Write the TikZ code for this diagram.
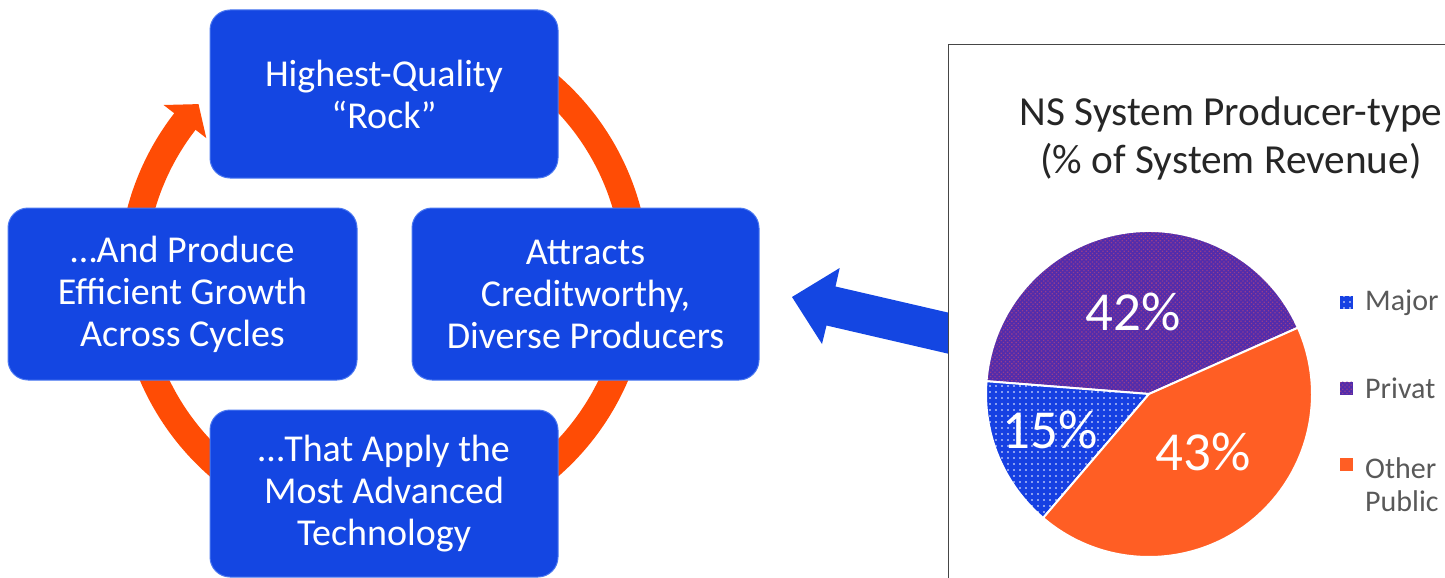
\documentclass[tikz,border=0pt]{standalone}
\usepackage{fontspec}
\setmainfont{Carlito}
\usetikzlibrary{patterns.meta}
\definecolor{boxblue}{RGB}{20,70,226}
\definecolor{boxedge}{RGB}{75,120,240}
\definecolor{ringorange}{RGB}{255,76,5}
\definecolor{pieorange}{RGB}{255,94,36}
\definecolor{pieblue}{RGB}{22,64,226}
\definecolor{piepurple}{RGB}{82,44,172}
\definecolor{purpledot}{RGB}{150,62,140}
\definecolor{titlegray}{RGB}{38,38,38}
\definecolor{leggray}{RGB}{89,89,89}
\definecolor{framegray}{RGB}{70,70,70}
\begin{document}
\begin{tikzpicture}[x=1pt,y=-1pt,
  box/.style={draw=boxedge, line width=1pt, fill=boxblue, rounded corners=20pt,
    text=white, align=center, font=\fontsize{38}{42}\selectfont, inner sep=0pt},
  ring/.style={draw=ringorange, line width=27pt},
  bluedots/.style={postaction={pattern={Dots[radius=0.9pt,distance=6pt]}, pattern color=white}},
  purpledots/.style={postaction={pattern={Dots[radius=0.9pt,distance=3pt,angle=45]}, pattern color=purpledot}},
  sep/.style={postaction={draw=white, line width=2pt, line join=round}},
  pct/.style={text=white, font=\fontsize{55}{60}\selectfont, inner sep=0pt},
  ttl/.style={text=titlegray, font=\fontsize{41.3}{48}\selectfont, inner sep=0pt, anchor=base},
  leg/.style={text=leggray, font=\fontsize{30}{34}\selectfont, inner sep=0pt, anchor=base west},
  mk/.style={minimum size=13pt, inner sep=0pt, draw=none},
  chartbox/.style={draw=framegray, line width=1.3pt, fill=white, inner sep=0pt}
]
\useasboundingbox (0,0) rectangle (1445,578);
\clip (0,0) rectangle (1445,578);

% cycle ring
\coordinate (rc) at (384,276);
\draw[ring] (rc) ++(-60:252) arc[start angle=-60, end angle=218, radius=252];
\fill[ringorange] (163.6,105) -- (198.5,104.1) -- (206.3,138.1) -- cycle;

% boxes
\node[box, minimum width=348pt, minimum height=168pt] (top) at (384,94) {Highest-Quality\\``Rock''};
\node[box, minimum width=349pt, minimum height=172pt] (left) at (182.5,294) {\ldots And Produce\\Efficient Growth\\Across Cycles};
\node[box, minimum width=347pt, minimum height=172pt] (right) at (585.5,294) {Attracts\\Creditworthy,\\Diverse Producers};
\node[box, minimum width=348pt, minimum height=167pt] (bottom) at (384,493.5) {\ldots That Apply the\\Most Advanced\\Technology};

% big blue arrow from chart to cycle
\coordinate (tip) at (792,297);
\fill[boxblue] (tip) -- (839.7,268) -- (835.5,286.5) -- (962,315.8) -- (953,354.8) -- (826.5,325.5) -- (822,344) -- cycle;

% chart frame
\node[chartbox, anchor=north west, minimum width=540pt, minimum height=560pt] (chart) at (948,44) {};

\node[ttl] (t1) at (1231,125) {NS System Producer-type};
\node[ttl] (t2) at (1231,173) {(\% of System Revenue)};

% pie
\coordinate (pc) at (1149,394);
\path[fill=piepurple, purpledots, sep] (pc) -- ++(-24:163) arc[start angle=-24, end angle=-175.5, radius=163] -- cycle;
\path[fill=pieblue, bluedots, sep] (pc) -- ++(-175.5:163) arc[start angle=-175.5, end angle=-229.5, radius=163] -- cycle;
\path[fill=pieorange, sep] (pc) -- ++(-229.5:163) arc[start angle=-229.5, end angle=-384, radius=163] -- cycle;

\node[pct] (p42) at (1133,312) {42\%};
\node[pct] (p15) at (1050,430) {15\%};
\node[pct] (p43) at (1203,452) {43\%};

% legend
\node[mk, fill=pieblue, bluedots] (m1) at (1346,302) {};
\node[mk, fill=piepurple, purpledots] (m2) at (1346,388) {};
\node[mk, fill=pieorange] (m3) at (1346,464) {};
\node[leg] (l1) at (1365,310) {Major};
\node[leg] (l2) at (1365,398) {Privat};
\node[leg] (l3) at (1365,478) {Other};
\node[leg] (l4) at (1365,511) {Public};
\end{tikzpicture}
\end{document}
